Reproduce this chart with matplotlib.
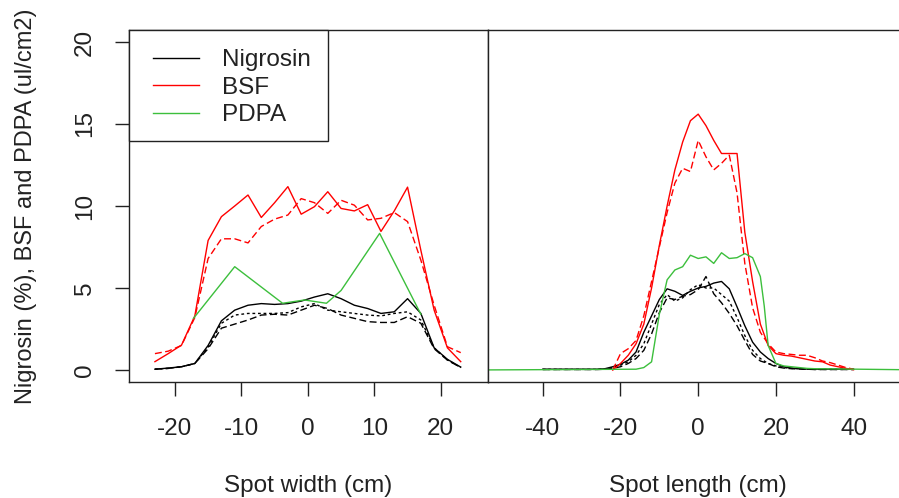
import numpy as np
import matplotlib
matplotlib.use("Agg")
import matplotlib.pyplot as plt
from matplotlib.patches import Rectangle

plt.rcParams['font.family'] = ['Liberation Sans', 'DejaVu Sans']
plt.rcParams['font.size'] = 17.5
plt.rcParams['axes.unicode_minus'] = False

# Spot width profiles (left panel), 2 cm grid
width_x = list(range(-23, 24, 2))
width_nig_1 = [0.05, 0.12, 0.2, 0.4, 1.5, 3.0, 3.65, 3.95, 4.05, 4.0, 4.05, 4.2,
               4.45, 4.65, 4.35, 3.95, 3.75, 3.45, 3.55, 4.35, 3.45, 1.35, 0.65, 0.18]
width_nig_2 = [0.05, 0.1, 0.2, 0.4, 1.3, 2.55, 2.8, 3.05, 3.35, 3.4, 3.35, 3.65,
               3.95, 3.75, 3.35, 3.15, 2.95, 2.9, 2.9, 3.25, 2.85, 1.3, 0.6, 0.15]
width_nig_3 = [0.05, 0.1, 0.2, 0.4, 1.4, 2.85, 3.35, 3.45, 3.45, 3.45, 3.5, 3.85,
               4.05, 3.65, 3.55, 3.45, 3.35, 3.3, 3.45, 3.55, 3.05, 1.35, 0.62, 0.15]
width_bsf_1 = [0.51, 1.0, 1.52, 3.3, 7.9, 9.35, 10.0, 10.67, 9.3, 10.2, 11.18, 9.5,
               9.96, 10.87, 9.85, 9.7, 10.08, 8.45, 9.7, 11.15, 7.3, 3.65, 1.35, 0.51]
width_bsf_2 = [1.0, 1.15, 1.5, 3.2, 6.8, 8.0, 8.0, 7.75, 8.75, 9.2, 9.45, 10.45,
               10.2, 9.55, 10.35, 10.05, 9.15, 9.25, 9.6, 9.05, 6.7, 3.95, 1.42, 1.06]
width_pdpa_x = [-17.2, -11.0, -3.8, -0.5, 2.8, 5.0, 10.8, 17.0]
width_pdpa = [3.15, 6.3, 4.07, 4.27, 4.07, 4.85, 8.33, 3.4]

# Spot length profiles (right panel), 2 cm grid
length_x = list(range(-40, 41, 2))
length_nig_1 = [0.05] * 8 + [0.08, 0.2, 0.35, 0.6, 1.1, 2.3, 3.3, 4.3, 4.95, 4.8, 4.55, 4.8,
                             5.0, 5.1, 5.3, 5.4, 4.95, 3.85, 2.7, 1.7, 1.1, 0.7, 0.4, 0.2,
                             0.12, 0.08, 0.06] + [0.05] * 6
length_nig_2 = [0.03] * 8 + [0.05, 0.1, 0.2, 0.4, 0.7, 1.2, 2.2, 3.5, 4.4, 4.3, 4.5, 4.6,
                             4.9, 5.7, 4.65, 4.1, 3.45, 2.7, 1.8, 0.95, 0.55, 0.4, 0.2, 0.12,
                             0.08, 0.06, 0.05] + [0.03] * 6
length_nig_3 = [0.04] * 8 + [0.06, 0.15, 0.3, 0.5, 0.9, 1.6, 2.8, 4.0, 4.6, 4.2, 4.4, 4.9,
                             5.2, 5.0, 5.0, 4.6, 4.2, 3.2, 2.1, 1.2, 0.7, 0.4, 0.25, 0.15,
                             0.1, 0.08, 0.06] + [0.04] * 6
length_bsf_x = list(range(-22, 41, 2))
length_bsf_1 = [0.0, 0.4, 0.9, 1.6, 2.8, 5.0, 7.6, 10.0, 12.2, 13.9, 15.2, 15.6, 14.9, 14.0,
                13.2, 13.2, 13.2, 8.4, 5.4, 2.8, 1.5, 1.0, 0.9, 0.85, 0.75, 0.65, 0.55, 0.5,
                0.3, 0.2, 0.1, 0.02]
length_bsf_2 = [0.0, 1.0, 1.3, 1.8, 3.3, 5.4, 7.5, 9.6, 11.4, 12.3, 12.1, 14.0, 13.0, 12.2,
                12.6, 13.1, 10.8, 6.5, 3.8, 2.3, 1.6, 1.1, 1.0, 0.95, 0.9, 0.9, 0.75, 0.55,
                0.45, 0.3, 0.15, 0.05]
length_pdpa_x = [-60, -16, -14, -12, -10, -8, -6, -4, -2, 0, 2, 4, 6, 8, 10, 12, 14, 16, 17,
                 18, 20, 22, 24, 26, 28, 30, 60]
length_pdpa = [0.0, 0.05, 0.15, 0.5, 3.4, 5.5, 6.1, 6.3, 7.0, 6.8, 6.9, 6.5, 7.15, 6.8, 6.85,
               7.1, 6.85, 5.7, 3.9, 1.5, 0.4, 0.25, 0.2, 0.15, 0.1, 0.08, 0.0]

RED = '#ff0000'
GREEN = '#3cbf3c'
dashed = (0, (5, 2.5))
dotted = (0, (2, 2))
lw = 1.0

fig = plt.figure(figsize=(8.99, 4.98), dpi=100)
ax1 = fig.add_axes([129 / 899, 116 / 498, 359 / 899, 352 / 498])
ax2 = fig.add_axes([488 / 899, 116 / 498, 420 / 899, 352 / 498])

# left panel
l1, = ax1.plot(width_x, width_nig_1, color='black', lw=lw)
ax1.plot(width_x, width_nig_2, color='black', lw=lw, linestyle=dashed)
ax1.plot(width_x, width_nig_3, color='black', lw=lw, linestyle=dotted)
l2, = ax1.plot(width_x, width_bsf_1, color=RED, lw=lw)
ax1.plot(width_x, width_bsf_2, color=RED, lw=lw, linestyle=dashed)
l3, = ax1.plot(width_pdpa_x, width_pdpa, color=GREEN, lw=lw)

# right panel
ax2.plot(length_x, length_nig_1, color='black', lw=lw)
ax2.plot(length_x, length_nig_2, color='black', lw=lw, linestyle=dashed)
ax2.plot(length_x, length_nig_3, color='black', lw=lw, linestyle=dotted)
ax2.plot(length_bsf_x, length_bsf_1, color=RED, lw=lw)
ax2.plot(length_bsf_x, length_bsf_2, color=RED, lw=lw, linestyle=dashed)
ax2.plot(length_pdpa_x, length_pdpa, color=GREEN, lw=lw)

ax1.set_xlim(-26.9, 27.1)
ax2.set_xlim(-54.1, 54.0)
for ax in (ax1, ax2):
    ax.set_ylim(-0.73, 20.73)
    for s in ax.spines.values():
        s.set_linewidth(1.0)
        s.set_color('#222222')
    ax.tick_params(direction='out', length=10, width=1, pad=16, labelsize=17.5,
                   color='#222222', labelcolor='#222222')

ax1.set_xticks([-20, -10, 0, 10, 20])
ax1.set_yticks([0, 5, 10, 15, 20])
ax1.tick_params(axis='y', labelrotation=90, pad=14)
for t in ax1.get_yticklabels():
    t.set_va('center')
ax2.set_xticks([-40, -20, 0, 20, 40])
ax2.tick_params(axis='y', left=False, labelleft=False)
ax2.spines['right'].set_visible(False)

# legend box
ax1.add_patch(Rectangle((0, (382 - 141) / 352), (328 - 129) / 359, (141 - 30) / 352,
                        transform=ax1.transAxes, facecolor='white', edgecolor='#222222',
                        lw=1.0, zorder=3, clip_on=False))
ax1.legend([l1, l2, l3], ['Nigrosin', 'BSF', 'PDPA'], loc='upper left',
           bbox_to_anchor=((153 - 129) / 359, (382 - 49) / 352), frameon=False,
           borderpad=0, borderaxespad=0, handlelength=1.9, handletextpad=0.92,
           labelspacing=0.23, fontsize=17.5, labelcolor='#222222').set_zorder(4)

fig.text(26 / 899, 1 - 206 / 498, 'Nigrosin (%), BSF and PDPA (ul/cm2)', rotation=90,
         ha='center', va='center', fontsize=17, color='#222222')
fig.text(308 / 899, 1 - 486 / 498, 'Spot width (cm)', ha='center', va='center',
         fontsize=17.5, color='#222222')
fig.text(698 / 899, 1 - 486 / 498, 'Spot length (cm)', ha='center', va='center',
         fontsize=17.5, color='#222222')

fig.savefig('out.png', dpi=100)
